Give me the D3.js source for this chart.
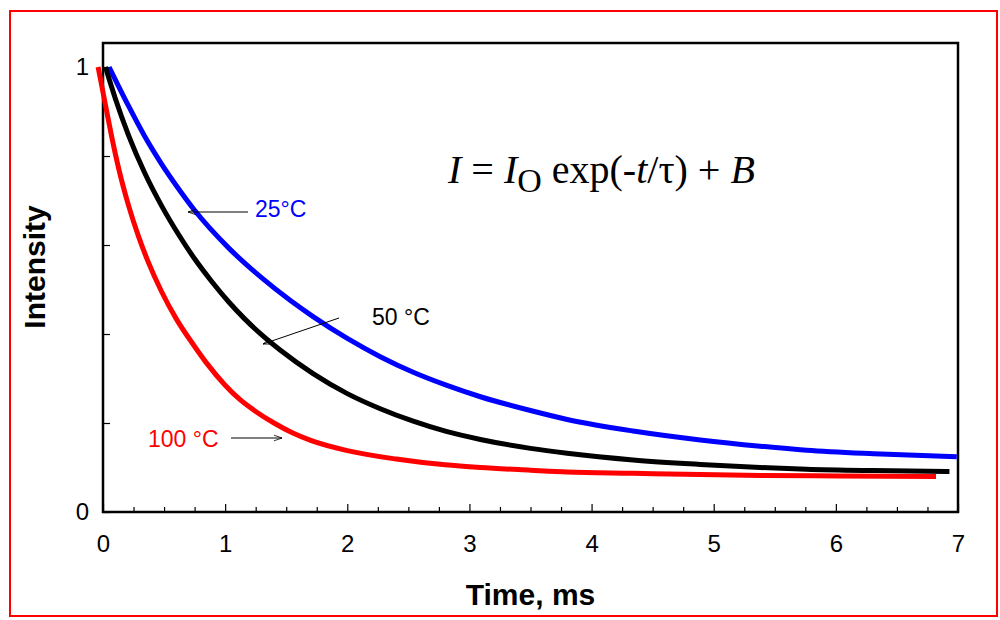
<!DOCTYPE html>
<html>
<head>
<meta charset="utf-8">
<script src="https://cdn.jsdelivr.net/npm/d3@7"></script>
<style>
  body { margin: 0; background: #fff; }
  svg text { font-family: Arial, "Liberation Sans", sans-serif; }
</style>
</head>
<body>
<div id="chart"></div>
<script>
// values (time in ms, normalised intensity)
var time25 = [0.05, 0.21, 0.34, 0.48, 0.62, 0.75, 1.03, 1.30, 1.54, 1.72, 2.00, 2.27, 2.54, 2.81, 3.09, 3.50, 3.80, 4.34, 4.89, 5.38, 5.76, 6.31, 6.99];
var intensity25 = [1.0, 0.912, 0.845, 0.782, 0.726, 0.678, 0.593, 0.526, 0.474, 0.439, 0.390, 0.349, 0.314, 0.285, 0.259, 0.228, 0.208, 0.182, 0.162, 0.148, 0.139, 0.131, 0.124];

var time50 = [0.02, 0.10, 0.21, 0.34, 0.48, 0.62, 0.75, 0.89, 1.03, 1.16, 1.30, 1.45, 1.72, 2.00, 2.27, 2.54, 2.81, 3.09, 3.50, 3.80, 4.34, 4.89, 5.38, 5.76, 6.31, 6.93];
var intensity50 = [1.0, 0.930, 0.846, 0.763, 0.688, 0.623, 0.569, 0.518, 0.472, 0.434, 0.398, 0.364, 0.311, 0.266, 0.232, 0.204, 0.181, 0.163, 0.143, 0.132, 0.117, 0.107, 0.100, 0.096, 0.093, 0.091];

var time100 = [-0.04, 0.02, 0.07, 0.13, 0.21, 0.29, 0.37, 0.48, 0.60, 0.75, 0.85, 1.00, 1.12, 1.25, 1.40, 1.55, 1.70, 2.00, 2.40, 2.80, 3.09, 3.50, 3.80, 4.34, 4.89, 5.38, 6.03, 6.82];
var intensity100 = [1.0, 0.915, 0.845, 0.770, 0.688, 0.620, 0.562, 0.495, 0.434, 0.372, 0.334, 0.285, 0.253, 0.226, 0.200, 0.178, 0.161, 0.138, 0.119, 0.106, 0.100, 0.094, 0.090, 0.087, 0.084, 0.082, 0.081, 0.080];

var seriesNames = ['25°C', '50 °C', '100 °C'];
var seriesColors = ['#0000ff', '#000000', '#ff0000'];

var xMajorTicks = [0, 1, 2, 3, 4, 5, 6, 7];
var yTicks = [0, 0.2, 0.4, 0.6, 0.8, 1];
var yTickLabels = ['0', '', '', '', '', '1'];

//Width and height
var w = 1000;
var h = 620;
var margin = { left: 103, right: 42, top: 43, bottom: 108 };
var pw = w - margin.left - margin.right;
var ph = h - margin.top - margin.bottom;

var svg = d3.select('#chart')
            .append('svg')
            .attr('width', w)
            .attr('height', h);

//red outer frame
svg.append('rect')
   .attr('x', 10).attr('y', 11)
   .attr('width', 987).attr('height', 605)
   .attr('fill', 'none')
   .attr('stroke', '#ff0000')
   .attr('stroke-width', 2);

var x = d3.scaleLinear().domain([0, 7]).range([0, pw]);
var y = d3.scaleLinear().domain([0, 1.054]).range([ph, 0]);

var g = svg.append('g')
           .attr('transform', 'translate(' + margin.left + ',' + margin.top + ')');

//minor x ticks every 0.25 ms
var xMinor = d3.range(0, 7.01, 0.25).filter(function (d) { return d % 1 !== 0; });

var xAxisMinor = g.append('g')
  .attr('transform', 'translate(0,' + ph + ')')
  .call(d3.axisBottom(x).tickValues(xMinor).tickSize(-5).tickFormat(''));

var xAxis = g.append('g')
  .attr('transform', 'translate(0,' + ph + ')')
  .call(d3.axisBottom(x).tickValues(xMajorTicks).tickSize(-8).tickPadding(23).tickFormat(d3.format('d')));

var yAxis = g.append('g')
  .call(d3.axisLeft(y).tickValues(yTicks).tickSize(-7).tickPadding(14)
    .tickFormat(function (d, i) { return yTickLabels[i]; }));

[xAxisMinor, xAxis, yAxis].forEach(function (a) {
  a.select('.domain').remove();
  a.selectAll('line').attr('stroke', '#000').attr('stroke-width', 1.2);
  a.selectAll('text').attr('font-size', 24).attr('fill', '#000')
   .style('font-family', 'Arial, "Liberation Sans", sans-serif');
});

//plot frame
g.append('rect')
 .attr('width', pw).attr('height', ph)
 .attr('fill', 'none')
 .attr('stroke', '#000')
 .attr('stroke-width', 2.5);

//curves
var seriesData = [
  d3.zip(time25, intensity25),
  d3.zip(time50, intensity50),
  d3.zip(time100, intensity100)
];

var line = d3.line()
  .x(function (d) { return x(d[0]); })
  .y(function (d) { return y(d[1]); })
  .curve(d3.curveMonotoneX);

g.selectAll('path.curve')
 .data(seriesData)
 .enter()
 .append('path')
 .attr('class', 'curve')
 .attr('d', line)
 .attr('fill', 'none')
 .attr('stroke', function (d, i) { return seriesColors[i]; })
 .attr('stroke-width', 5)
 .attr('stroke-linejoin', 'round');

//arrow head
svg.append('defs').append('marker')
   .attr('id', 'arrow')
   .attr('viewBox', '0 -5 10 10')
   .attr('refX', 10).attr('refY', 0)
   .attr('markerWidth', 10).attr('markerHeight', 8)
   .attr('markerUnits', 'userSpaceOnUse')
   .attr('orient', 'auto')
   .append('path')
   .attr('d', 'M0,-3.5L10,0L0,3.5')
   .attr('fill', 'none')
   .attr('stroke', '#000')
   .attr('stroke-width', 1);

//labels with arrows pointing to each curve
var labelPos = [
  { tx: 255, ty: 217, x1: 248, y1: 212, x2: 188, y2: 212 },
  { tx: 372, ty: 325, x1: 339, y1: 318, x2: 263, y2: 344 },
  { tx: 148, ty: 447, x1: 231, y1: 438, x2: 282, y2: 438 }
];

labelPos.forEach(function (p, i) {
  svg.append('line')
     .attr('x1', p.x1).attr('y1', p.y1)
     .attr('x2', p.x2).attr('y2', p.y2)
     .attr('stroke', '#000')
     .attr('stroke-width', 1)
     .attr('marker-end', 'url(#arrow)');
  svg.append('text')
     .attr('x', p.tx).attr('y', p.ty)
     .attr('font-size', 23)
     .attr('fill', seriesColors[i])
     .text(seriesNames[i]);
});

//axis titles
svg.append('text')
   .attr('x', margin.left + pw / 2)
   .attr('y', 605)
   .attr('text-anchor', 'middle')
   .attr('font-size', 30)
   .attr('font-weight', 'bold')
   .text('Time, ms');

svg.append('text')
   .attr('transform', 'translate(45,267) rotate(-90)')
   .attr('text-anchor', 'middle')
   .attr('font-size', 30)
   .attr('font-weight', 'bold')
   .text('Intensity');

//fit equation
var eq = svg.append('text')
   .attr('x', 448).attr('y', 183)
   .attr('font-size', 40)
   .style('font-family', '"Times New Roman", "Liberation Serif", serif');
eq.append('tspan').attr('font-style', 'italic').text('I');
eq.append('tspan').text(' = ');
eq.append('tspan').attr('font-style', 'italic').text('I');
eq.append('tspan').attr('font-size', 34).attr('dy', 9).text('O');
eq.append('tspan').attr('dy', -9).text(' exp(-');
eq.append('tspan').attr('font-style', 'italic').text('t');
eq.append('tspan').text('/τ) + ');
eq.append('tspan').attr('font-style', 'italic').text('B');
</script>
</body>
</html>
